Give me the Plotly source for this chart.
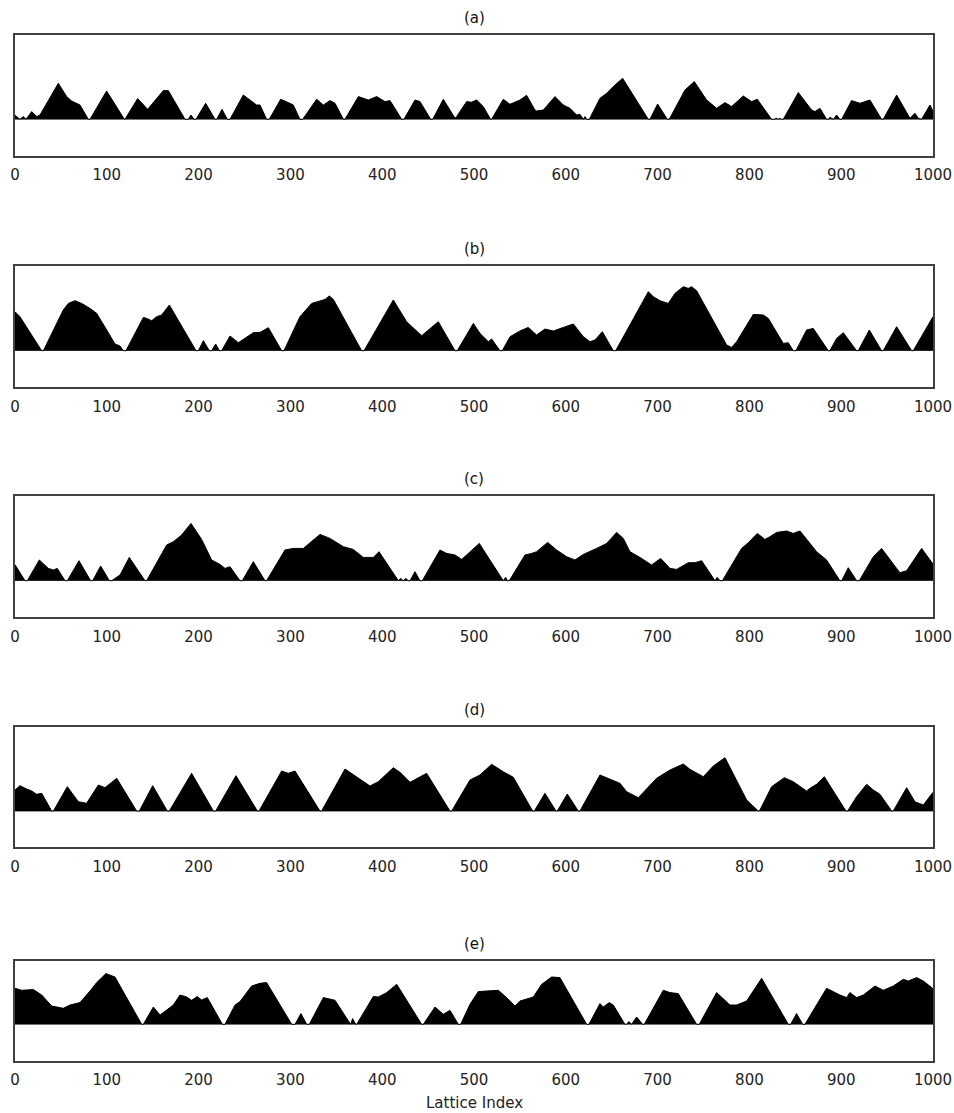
import plotly.graph_objects as go

# ---- data: (lattice index, height) breakpoints ----
PANEL_TITLES = ["(a)", "(b)", "(c)", "(d)", "(e)"]
X_TICKS = [0, 100, 200, 300, 400, 500, 600, 700, 800, 900, 1000]
X_LABEL = "Lattice Index"

PROFILE_A = [(0,4),(5.4,0),(9.1,2.7),(12,0),(18.2,7.7),(23.6,2.7),(27.2,4.3),(47.2,36),(56.3,22.7),(61.7,18.3),(70.8,14.3),(79.9,0),(81.7,0),(99.8,28.3),(119.1,0),(119.8,0),(133.6,20.7),(144.5,10),(161.6,28.7),(167,28.7),(185.2,0),(188.8,0),(191.7,4.3),(195,0),(197.2,0),(207.7,16),(217.9,0),(219.7,0),(225.5,10),(231.3,0),(234.2,0),(248.7,24.3),(256,19.3),(263.2,14.3),(266.9,14.3),(274.1,0),(277,0),(289.4,20),(297.7,16.7),(303.2,14.3),(310.4,0),(313.4,0),(328.6,20),(335.9,14.3),(343.1,18.7),(348.6,16),(357.7,0),(359.5,0),(374,22.7),(384.9,19.3),(394,22.7),(403,17.7),(408.5,18.7),(421.2,0),(423.7,0),(435.7,19.3),(441.2,17.7),(452.8,0),(455,0),(466.6,20),(479.3,1),(481.1,2.7),(492,17.7),(497,17),(502.9,19.3),(510.1,12.7),(518.1,0),(519.2,0),(531.9,20),(539.2,15),(550.1,19.3),(557.3,24),(566.4,9.3),(568.2,8.3),(575.5,9.3),(588.2,22.7),(597.3,14.3),(604.5,11),(611.8,4.3),(615.4,5),(619.1,0),(620.9,2.7),(622.7,0),(625.6,0),(637.2,21),(644.5,26),(651.7,32.7),(661.9,41),(689.9,0),(691.7,0),(700,15.3),(710.6,0),(712.7,0),(729.8,29.3),(740,37.7),(753.4,19.3),(764.3,11),(773.4,16.7),(780.6,12.7),(793.3,23.3),(802.4,17.7),(808.6,20),(824.2,0),(826.7,0),(829.7,1),(831.5,0),(833.3,1),(835.1,0),(836.9,0),(853.3,26.7),(867.8,9.3),(871.4,7.7),(876.9,11),(884.1,0),(885.9,0),(887.7,2),(891.4,0),(895,4.3),(898.6,0),(900.5,0),(911.3,18.7),(920.4,16),(931.3,19.3),(944,0),(945.8,0),(960.4,24.3),(974.9,1),(980.3,6),(984,1),(987.6,0),(996.7,14.3),(1000,8)]

PROFILE_B = [(0,39),(5.4,34),(29,0),(30.9,0),(52.6,40.7),(58.1,47.3),(65.4,50),(72.6,47.3),(81.7,42.3),(89,37.3),(99.9,20.7),(108.9,6.7),(114.4,4.7),(118,0),(120.9,0),(139.8,33.3),(143.4,32.3),(148.9,30),(154.3,34),(159.8,35.7),(168.1,45.7),(197.2,0),(199.7,0),(205.2,10),(211.7,0),(214.2,0),(218.6,6.7),(222.6,0),(225.1,0),(234.2,14.7),(243.3,8),(248.7,11.3),(259.6,18),(266.9,18.3),(276,23),(290.5,0),(293,0),(310.4,34),(323.2,47.3),(332.2,49.7),(337.7,51.3),(342.4,54.7),(346.8,51.3),(377.6,0),(380.2,0),(412.1,50.7),(426.6,29),(443,15),(452,22.3),(461.1,29),(479.3,0),(481.8,0),(499.3,27.3),(506.5,17.3),(515.6,9),(519.2,11.7),(528.3,0),(530.8,0),(539.2,14),(550.1,19.7),(559.1,23.3),(568.2,15.7),(577.3,21.7),(586.4,19.7),(597.3,23.3),(608.2,26.7),(619.1,14),(626.3,9),(631.8,10.7),(639.8,19),(651.7,0),(654.3,0),(689.9,59),(695.3,54),(702.6,50),(711.6,47.3),(718.9,57.3),(728,64),(733.4,62.3),(737.1,64),(742.5,60),(775.2,5.7),(780.6,3.3),(786.1,9),(804.2,36.3),(815.1,35.7),(820.6,32.3),(836.9,7.3),(842.4,8),(847.8,0),(850.7,0),(862.3,20.7),(869.6,22.3),(885.9,0),(887.7,0),(895,12.3),(902.3,18),(916.8,0),(918.6,0),(930.6,20.7),(944,0),(945.8,0),(960.4,24),(976.7,0),(978.5,0),(1000,34)]

PROFILE_C = [(0,16),(10.9,0),(13.4,0),(26.5,20.7),(36.3,12.3),(41.8,10.7),(46.1,12.3),(54.5,0),(57,0),(69.7,20),(82.4,0),(84.6,0),(93.3,14.7),(102.8,0),(105.3,0),(114.4,5.7),(124.5,23.3),(141.6,0),(143.4,0),(165.2,35.7),(172.5,39),(181.5,45.7),(191.7,57.3),(203.3,41.3),(214.2,20.7),(223.3,16.3),(228.8,12.3),(234.2,14),(245.1,0),(247.6,0),(259.6,19),(272.3,0),(274.1,0),(294.1,30.7),(303.2,32.3),(314.1,32.3),(332.2,46.3),(343.1,42.3),(357.7,34),(368.5,31.3),(379.4,23.3),(390.3,23.3),(396.5,29),(417.6,0),(420.1,2.3),(423,0),(425.6,2.3),(428.5,0),(430.3,0),(435.7,9),(441.2,0),(443.7,0),(462.9,30.7),(470.2,27.3),(479.3,25.7),(486.6,21.3),(493.8,27.3),(505.8,37.3),(513.8,25.7),(531.9,0),(534.5,3.3),(536.3,0),(538.4,0),(555.5,25.7),(562.8,27.3),(568.2,29),(580.2,38.3),(590,30.7),(600.9,24),(610,20.7),(619.1,26.3),(626.3,29),(633.6,32.3),(644.5,37.3),(655.4,48.3),(662.6,42.3),(669.9,29),(680.8,23.3),(693.5,15.7),(703.3,22.3),(713.5,12.3),(720.7,11.3),(733.4,18),(740.7,18),(748,20),(762.5,0),(765,3.3),(767.9,0),(770.5,0),(791.5,32.3),(798.8,38),(808.6,47.3),(816.9,41.3),(822.4,44),(829.7,48.3),(840.5,49.7),(847.8,47.3),(855.1,49.7),(873.2,29),(884.1,20.7),(898.6,0),(900.5,0),(907.7,13),(916.8,0),(919.7,0),(935,24),(944,32.3),(956.7,16.7),(964,8),(971.3,10),(987.6,32.3),(1000,16.7)]

PROFILE_D = [(0,21),(5.4,25.3),(12.7,22),(18.2,20),(23.6,16.7),(29.1,17.7),(39.9,0),(41.8,0),(57,24.3),(69,9.3),(78,7.7),(90.8,26),(98,23.3),(110.8,32.7),(132.5,0),(135.4,0),(150,25.3),(165.9,0),(168.1,0),(192.4,37.7),(216.1,0),(218.6,0),(240.7,35.3),(264,0),(265.8,0),(290.5,40),(297.7,37.7),(305,40),(332.2,0),(334,0),(359.5,42),(372.2,34.3),(386.7,25),(395.8,29.3),(412.1,43.3),(419.4,38.7),(430.3,28.7),(448.4,37.7),(473.8,0),(475.7,0),(495.6,31),(506.5,36),(519.2,46.7),(531.9,39.3),(542.8,33.7),(563.9,0),(565.7,0),(577.3,17.7),(589.3,0),(590.7,0),(601.6,17),(613.6,0),(615.4,0),(637.2,36),(648.1,31.7),(659,27.7),(666.3,19.3),(679,13.3),(698.9,32.7),(713.5,41),(728,47),(735.2,41.7),(749.8,34.3),(760.7,45),(773.4,53.3),(797,11),(809.7,0),(811.5,1),(824.2,24.3),(838,33.3),(847.8,29.3),(862.3,20),(866,22.7),(873.2,26.7),(881.6,34.3),(905.2,0),(907,0),(916.8,14.3),(927.7,26.7),(935,21),(942.2,16.7),(955,0),(956.7,0),(971.3,23.3),(980.3,9.3),(989.4,6),(1000,18.7)]

PROFILE_E = [(0,36),(7.3,34),(20,34.7),(29.1,29.3),(39.9,18.3),(52.6,16),(59.9,19.3),(70.8,21.7),(81.7,33.3),(89,41.7),(99.1,50.7),(108.9,47.3),(138,0),(139.8,0),(150.7,17.3),(158,9.3),(172.5,19.3),(179.7,29.3),(187,27.3),(192.4,24),(198.6,27.7),(203.3,24.3),(209.5,26.7),(225.9,0),(228.8,0),(239.7,19.3),(245.1,22.7),(257.8,38.3),(266.9,41),(274.1,41.7),(301.4,0),(305,0),(311.5,10.7),(317.7,0),(320.6,0),(335.9,26.7),(348.6,24),(364.9,0),(365.6,0),(367.8,5.7),(371.1,0),(372.2,0),(390.3,27.7),(395.8,27.3),(404.9,31.7),(415.8,40),(443,0),(444.8,0),(457.5,17.3),(466.6,10),(473.8,14),(482.9,0),(485.5,0),(495.6,20),(504.7,32.7),(513.8,33.3),(526.5,34),(535.5,26.7),(544.6,18.3),(550.1,23.3),(564.6,27.3),(573.7,40),(584.6,47.3),(593.6,46.7),(622.7,0),(625.2,0),(637.2,20.7),(640.8,17.3),(647.4,21.7),(651.7,19.3),(664.4,0),(666,0),(668.8,2.7),(671.7,0),(677.2,7.3),(683.7,0),(685.5,0),(706.2,34),(713.5,31.7),(722.5,30.7),(742.5,0),(745.4,0),(764.3,31.7),(778.8,19.3),(786.1,19.3),(797,23.3),(813.3,46),(842.4,0),(844.9,0),(851.4,10.7),(858,0),(860.5,0),(884.1,36),(898.6,29.3),(905.9,26.7),(909.5,31.7),(916.8,26.7),(924.1,29.3),(936.8,38.3),(945.8,34),(956.7,38.3),(967.6,45),(973.1,43.3),(982.2,46.7),(989.4,43.3),(999.6,36),(1000,35)]

PROFILES = [PROFILE_A, PROFILE_B, PROFILE_C, PROFILE_D, PROFILE_E]

# ---- layout (pixels of the 954x1113 page) ----
W, H = 954, 1113
X0, X1 = 15, 933
TOPS = [35, 266.4, 496.4, 726.7, 961]
BOTTOMS = [155.7, 387.1, 617.1, 847.4, 1060.7]
BELOW_ZERO = 36.4          # pixels from baseline down to box bottom
LABEL_Y = 1103
FONT = "DejaVu Sans"

fig = go.Figure()
annotations = []
for i, (prof, title) in enumerate(zip(PROFILES, PANEL_TITLES)):
    n = i + 1
    xs = [p[0] for p in prof]
    ys = [p[1] for p in prof]
    fig.add_trace(go.Scatter(
        x=xs, y=ys, mode="lines", fill="tozeroy",
        line=dict(color="black", width=1), fillcolor="black",
        xaxis=f"x{n}", yaxis=f"y{n}", showlegend=False, hoverinfo="skip"))
    top, bot = TOPS[i], BOTTOMS[i]
    ydom = [1 - bot / H, 1 - top / H]
    yr = [-BELOW_ZERO, (bot - top) - BELOW_ZERO]
    xkey = "xaxis" if n == 1 else f"xaxis{n}"
    ykey = "yaxis" if n == 1 else f"yaxis{n}"
    fig.update_layout(**{
        xkey: dict(domain=[X0 / W, X1 / W], anchor=f"y{n}", range=[0, 1000],
                   tickmode="array", tickvals=X_TICKS,
                   ticktext=[str(t) for t in X_TICKS],
                   showgrid=False, zeroline=False, ticks="",
                   showline=True, mirror=True, linecolor="#404040", linewidth=1.5,
                   tickfont=dict(family=FONT, size=15, color="#222222"),
                   ticklabelstandoff=5, automargin=False),
        ykey: dict(domain=ydom, anchor=f"x{n}", range=yr,
                   showticklabels=False, ticks="", showgrid=False,
                   zeroline=True, zerolinecolor="#9a9a9a", zerolinewidth=1,
                   showline=True, mirror=True, linecolor="#404040", linewidth=1.5,
                   automargin=False),
    })
    annotations.append(dict(
        text=title, xref="paper", yref="paper",
        x=(X0 + X1) / 2 / W, y=1 - (top - 17) / H,
        xanchor="center", yanchor="middle", showarrow=False,
        font=dict(family=FONT, size=15, color="#111111")))

annotations.append(dict(
    text=X_LABEL, xref="paper", yref="paper",
    x=(X0 + X1) / 2 / W, y=1 - LABEL_Y / H,
    xanchor="center", yanchor="middle", showarrow=False,
    font=dict(family=FONT, size=15, color="#222222")))

fig.update_layout(
    width=W, height=H,
    margin=dict(l=0, r=0, t=0, b=0, autoexpand=False),
    paper_bgcolor="white", plot_bgcolor="white",
    annotations=annotations,
)

# the page body's default 8px margin would push the 954x1113 figure off the window
fig.write_html("out.html", config={"displayModeBar": False},
               post_script="document.body.style.margin='0';document.body.style.overflow='hidden';")
